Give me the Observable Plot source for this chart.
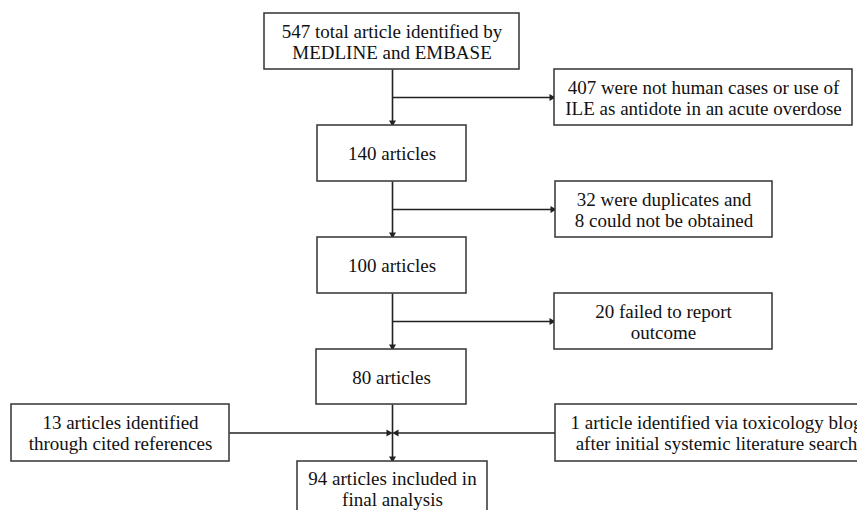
<!DOCTYPE html>
<html>
<head>
<meta charset="utf-8">
<script src="https://cdn.jsdelivr.net/npm/d3@7"></script>
<script src="https://cdn.jsdelivr.net/npm/@observablehq/plot@0.6"></script>
<style>
  html, body { margin: 0; padding: 0; background: #fff; overflow: hidden; }
  #chart svg { display: block; }
  #chart svg text { font-family: "Liberation Serif", "Times New Roman", Tinos, Times, "DejaVu Serif", serif !important; }
</style>
</head>
<body>
<div id="chart"></div>
<script>
// ---- content (text of the flow diagram) ----
const nodeIds = ["identified", "a140", "a100", "a80", "final", "ex1", "ex2", "ex3", "cited", "blog"];
const nodeLabels = [
  "547 total article identified by\nMEDLINE and EMBASE",
  "140 articles",
  "100 articles",
  "80 articles",
  "94 articles included in\nfinal analysis",
  "407 were not human cases or use of\nILE as antidote in an acute overdose",
  "32 were duplicates and\n8 could not be obtained",
  "20 failed to report\noutcome",
  "13 articles identified\nthrough cited references",
  "1 article identified via toxicology blog\nafter initial systemic literature search"
];
const articleCounts = [547, 140, 100, 80, 94, 407, 40, 20, 13, 1];

// ---- layout (pixel space of the 857x510 picture) ----
const boxX1 = [264, 317, 317, 316, 297, 554, 555, 554, 11, 555];
const boxX2 = [519, 466, 466, 466, 487, 852, 772, 772, 229, 880];
const boxY1 = [13, 125, 237, 349, 461, 69, 181, 293, 404, 404];
const boxY2 = [69, 181, 293, 404, 530, 125, 237, 349, 461, 461];
const textCY = [41, 153, 265, 376.5, 488, 97, 209, 321, 432.5, 432.5];
const textCX = [391.5, 391.5, 391.5, 391, 392, 703, 663.5, 663, 120, 716];

const boxes = nodeIds.map((id, i) => ({
  id, label: nodeLabels[i], count: articleCounts[i],
  x1: boxX1[i], x2: boxX2[i], y1: boxY1[i], y2: boxY2[i],
  cx: textCX[i], cy: textCY[i]
}));
const B = Object.fromEntries(boxes.map(b => [b.id, b]));
const cx = 392;

// connector segments and arrow heads
const segs = [];
const heads = [];
function vline(from, to) {
  segs.push({x1: cx, y1: B[from].y2, x2: cx, y2: B[to].y1});
  heads.push({x: cx, y: B[to].y1 - 3, rot: 180});
}
vline("identified", "a140");
vline("a140", "a100");
vline("a100", "a80");
vline("a80", "final");
[["identified", "a140", "ex1"], ["a140", "a100", "ex2"], ["a100", "a80", "ex3"]].forEach(([a, b, e]) => {
  const y = (B[a].y2 + B[b].y1) / 2;
  segs.push({x1: cx, y1: y, x2: B[e].x1, y2: y});
  heads.push({x: B[e].x1 - 3, y, rot: 90});
});
const mergeY = 432.5;
segs.push({x1: B.cited.x2, y1: mergeY, x2: cx - 1, y2: mergeY});
heads.push({x: cx - 4, y: mergeY, rot: 90});
segs.push({x1: B.blog.x1, y1: mergeY, x2: cx + 1, y2: mergeY});
heads.push({x: cx + 4, y: mergeY, rot: 270});

const serif = "'Liberation Serif', 'Times New Roman', Tinos, Times, 'DejaVu Serif', serif";
const chart = Plot.plot({
  width: 857,
  height: 510,
  margin: 0,
  x: {type: "linear", domain: [0, 857], range: [0, 857], axis: null},
  y: {type: "linear", domain: [0, 510], range: [0, 510], axis: null},
  style: {background: "#fff", overflow: "hidden", fontFamily: serif},
  marks: [
    Plot.link(segs, {x1: "x1", y1: "y1", x2: "x2", y2: "y2", stroke: "#222", strokeWidth: 1.6}),
    Plot.dot(heads, {x: "x", y: "y", rotate: "rot", symbol: "triangle", r: 2.6, fill: "#222", stroke: "none"}),
    Plot.rect(boxes, {x1: "x1", x2: "x2", y1: "y1", y2: "y2", fill: "white", stroke: "#333", strokeWidth: 1.5}),
    Plot.text(boxes, {x: "cx", y: "cy", text: "label", fontSize: 19, lineHeight: 1.12,
      fontFamily: serif, fill: "#111"})
  ]
});
document.getElementById("chart").appendChild(chart);
</script>
</body>
</html>
